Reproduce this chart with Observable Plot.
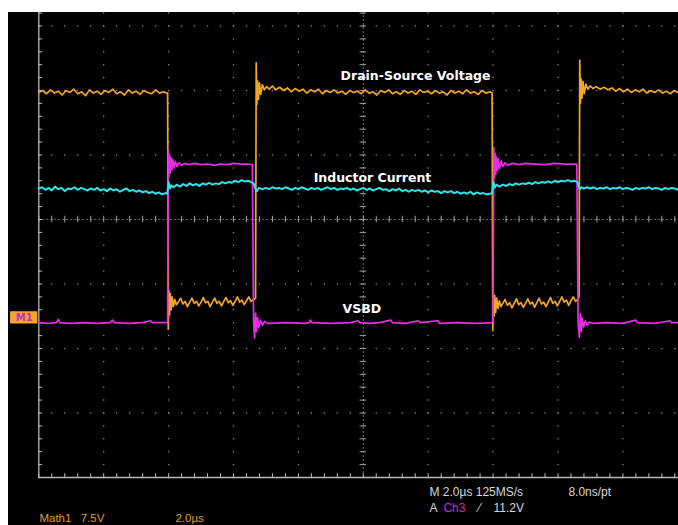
<!DOCTYPE html>
<html>
<head>
<meta charset="utf-8">
<script src="https://cdn.jsdelivr.net/npm/d3@7"></script>
<script src="https://cdn.jsdelivr.net/npm/@observablehq/plot@0.6"></script>
<style>
  html, body { margin: 0; padding: 0; background: #fff; overflow: hidden; }
  #wrap { padding: 12px 0 0 8px; }
</style>
</head>
<body>
<div id="wrap"></div>
<script>
// time in µs (2 µs/div), vertical in screen divisions
const majorTimes = [0, 2, 4, 6, 8, 10, 12, 14, 16, 18, 20];
const majorDivs = [-4, -3, -2, -1, 0, 1, 2, 3];

const drainSource = [
  [0,1.97],[0.12,2.00],[0.24,1.95],[0.36,2.01],[0.48,1.96],[0.6,1.99],[0.72,1.93],[0.84,2.00],[0.96,1.97],[1.08,2.02],
  [1.2,1.95],[1.32,1.98],[1.44,1.92],[1.56,2.01],[1.68,1.96],[1.8,1.99],[1.92,1.94],[2.04,2.00],[2.16,1.97],[2.28,2.02],
  [2.4,1.95],[2.52,1.98],[2.64,1.93],[2.76,2.01],[2.88,1.96],[3.0,1.99],[3.12,1.94],[3.24,2.00],[3.36,1.97],[3.48,1.95],
  [3.6,2.01],[3.72,1.96],[3.84,1.98],[3.95,1.96],[3.97,1.96],
  [3.99,-1.70],[4.01,-1.10],[4.03,-1.48],[4.05,-1.15],[4.08,-1.40],[4.11,-1.20],[4.15,-1.35],[4.19,-1.24],[4.24,-1.32],
  [4.3,-1.28],[4.37,-1.22],[4.44,-1.31],[4.51,-1.27],[4.58,-1.35],[4.65,-1.28],[4.72,-1.22],[4.79,-1.30],[4.86,-1.27],[4.93,-1.34],
  [5.0,-1.28],[5.07,-1.21],[5.14,-1.29],[5.21,-1.27],[5.28,-1.35],[5.35,-1.28],[5.42,-1.22],[5.49,-1.30],[5.56,-1.27],[5.63,-1.34],
  [5.7,-1.27],[5.77,-1.21],[5.84,-1.29],[5.91,-1.26],[5.98,-1.33],[6.05,-1.27],[6.12,-1.20],[6.19,-1.28],[6.26,-1.25],[6.33,-1.32],
  [6.4,-1.26],[6.47,-1.20],[6.54,-1.27],[6.62,-1.24],[6.68,-1.22],
  [6.70,2.43],[6.72,1.78],[6.74,2.15],[6.77,1.86],[6.80,2.12],[6.84,1.94],[6.89,2.09],[6.95,2.01],[7.02,2.06],[7.1,2.02],
  [7.2,2.07],[7.3,2.01],[7.42,2.05],[7.54,2.00],[7.66,2.04],[7.78,1.98],[7.9,2.03],[8.02,1.99],[8.14,2.02],[8.26,1.96],
  [8.38,2.01],[8.5,1.98],[8.62,2.02],[8.74,1.95],[8.86,2.00],[8.98,1.97],[9.1,2.01],[9.22,1.96],[9.34,1.99],[9.46,1.94],
  [9.58,2.00],[9.7,1.97],[9.82,1.99],[9.94,1.95],[10.06,2.01],[10.18,1.96],[10.3,1.98],[10.42,1.93],[10.54,2.00],[10.66,1.97],
  [10.78,2.01],[10.9,1.95],[11.02,1.98],[11.14,1.94],[11.26,2.00],[11.38,1.96],[11.5,1.99],[11.62,1.94],[11.74,2.01],[11.86,1.97],
  [11.98,1.99],[12.1,1.95],[12.22,2.00],[12.34,1.96],[12.46,1.98],[12.58,1.93],[12.7,2.00],[12.82,1.96],[12.94,1.99],[13.06,1.95],
  [13.18,2.01],[13.3,1.96],[13.42,1.98],[13.54,1.94],[13.66,2.00],[13.78,1.96],[13.9,1.98],[13.97,1.96],
  [13.99,-1.72],[14.01,-1.15],[14.03,-1.50],[14.05,-1.18],[14.08,-1.44],[14.11,-1.22],[14.15,-1.38],[14.19,-1.26],[14.24,-1.35],
  [14.3,-1.30],[14.37,-1.24],[14.44,-1.33],[14.51,-1.29],[14.58,-1.37],[14.65,-1.30],[14.72,-1.23],[14.79,-1.32],[14.86,-1.29],[14.93,-1.36],
  [15.0,-1.30],[15.07,-1.23],[15.14,-1.31],[15.21,-1.28],[15.28,-1.36],[15.35,-1.29],[15.42,-1.22],[15.49,-1.31],[15.56,-1.28],[15.63,-1.35],
  [15.7,-1.28],[15.77,-1.21],[15.84,-1.30],[15.91,-1.27],[15.98,-1.34],[16.05,-1.27],[16.12,-1.20],[16.19,-1.28],[16.26,-1.25],[16.33,-1.33],
  [16.4,-1.26],[16.47,-1.20],[16.54,-1.27],[16.61,-1.24],[16.65,-1.20],
  [16.67,2.47],[16.69,1.80],[16.71,2.18],[16.74,1.88],[16.77,2.14],[16.81,1.95],[16.86,2.10],[16.92,2.02],[16.99,2.07],[17.08,2.03],
  [17.18,2.06],[17.3,2.02],[17.42,2.05],[17.54,2.01],[17.66,2.04],[17.78,1.99],[17.9,2.03],[18.02,1.98],[18.14,2.02],[18.26,1.97],
  [18.38,2.01],[18.5,1.98],[18.62,2.02],[18.74,1.96],[18.86,2.00],[18.98,1.97],[19.1,2.01],[19.22,1.96],[19.34,1.99],[19.46,1.95],
  [19.58,2.00],[19.7,1.97],[19.82,1.99],[19.94,1.96],[20.0,1.98]
];

const vsbd = [
  [0,-1.60],[0.3,-1.61],[0.55,-1.60],[0.6,-1.55],[0.65,-1.60],[1.0,-1.61],[1.4,-1.60],[1.8,-1.61],[2.2,-1.60],[2.27,-1.56],
  [2.33,-1.60],[2.8,-1.61],[3.2,-1.60],[3.45,-1.57],[3.5,-1.60],[3.97,-1.60],
  [3.99,1.07],[4.01,0.66],[4.03,1.00],[4.05,0.72],[4.07,0.96],[4.10,0.77],[4.13,0.93],[4.17,0.80],[4.21,0.90],[4.26,0.82],
  [4.32,0.88],[4.4,0.84],[4.5,0.87],[4.65,0.85],[4.8,0.87],[5.0,0.85],[5.2,0.86],[5.4,0.84],[5.6,0.86],[5.8,0.85],
  [6.0,0.87],[6.2,0.86],[6.4,0.86],[6.58,0.85],
  [6.62,-1.60],[6.65,-1.84],[6.68,-1.45],[6.71,-1.74],[6.74,-1.52],[6.78,-1.68],[6.83,-1.56],[6.89,-1.64],[6.96,-1.58],[7.05,-1.61],
  [7.6,-1.60],[8.2,-1.61],[8.33,-1.60],[8.37,-1.56],[8.42,-1.60],[9.0,-1.61],[9.6,-1.60],[9.85,-1.57],[9.9,-1.60],[10.2,-1.61],
  [10.5,-1.60],[10.85,-1.56],[10.9,-1.60],[11.3,-1.61],[11.7,-1.57],[11.75,-1.60],[12.3,-1.57],[12.35,-1.61],[12.9,-1.60],[13.5,-1.61],
  [14.0,-1.60],
  [14.02,1.12],[14.04,0.64],[14.06,1.02],[14.08,0.70],[14.10,0.97],[14.13,0.76],[14.16,0.94],[14.20,0.79],[14.25,0.91],[14.3,0.82],
  [14.37,0.88],[14.45,0.84],[14.6,0.87],[14.8,0.85],[15.0,0.87],[15.3,0.86],[15.6,0.85],[15.9,0.87],[16.2,0.86],[16.58,0.86],
  [16.62,-1.60],[16.66,-1.83],[16.69,-1.46],[16.72,-1.73],[16.75,-1.53],[16.79,-1.67],[16.84,-1.57],[16.9,-1.64],[16.97,-1.59],[17.06,-1.61],
  [17.5,-1.60],[18.0,-1.61],[18.4,-1.56],[18.45,-1.60],[19.0,-1.61],[19.45,-1.57],[19.5,-1.60],[20,-1.60]
];

const inductorCurrent = [
  [0,0.48],[0.1,0.50],[0.2,0.46],[0.3,0.49],[0.4,0.45],[0.5,0.51],[0.6,0.47],[0.7,0.49],[0.8,0.44],[0.9,0.48],
  [1.0,0.47],[1.1,0.50],[1.2,0.46],[1.3,0.49],[1.4,0.47],[1.5,0.45],[1.6,0.48],[1.7,0.46],[1.8,0.49],[1.9,0.45],
  [2.0,0.47],[2.1,0.44],[2.2,0.48],[2.3,0.45],[2.4,0.47],[2.5,0.43],[2.6,0.46],[2.7,0.48],[2.8,0.44],[2.9,0.46],
  [3.0,0.43],[3.1,0.45],[3.2,0.42],[3.3,0.44],[3.4,0.41],[3.5,0.43],[3.6,0.40],[3.7,0.42],[3.8,0.39],[3.9,0.41],[3.96,0.40],
  [4.0,0.58],[4.04,0.48],[4.08,0.53],[4.15,0.50],[4.25,0.54],[4.35,0.51],[4.45,0.55],[4.55,0.52],[4.65,0.56],[4.75,0.53],
  [4.85,0.55],[4.95,0.52],[5.05,0.56],[5.15,0.54],[5.25,0.57],[5.35,0.54],[5.45,0.56],[5.55,0.55],[5.65,0.58],[5.75,0.56],
  [5.85,0.58],[5.95,0.57],[6.05,0.60],[6.15,0.58],[6.25,0.61],[6.35,0.59],[6.45,0.60],[6.55,0.58],[6.62,0.56],
  [6.68,0.47],[6.72,0.44],[6.78,0.49],[6.88,0.47],[7.0,0.49],[7.1,0.47],[7.2,0.50],[7.3,0.48],[7.4,0.49],[7.5,0.47],
  [7.6,0.50],[7.7,0.48],[7.8,0.46],[7.9,0.49],[8.0,0.47],[8.1,0.50],[8.2,0.48],[8.3,0.46],[8.4,0.49],[8.5,0.47],
  [8.6,0.49],[8.7,0.46],[8.8,0.48],[8.9,0.50],[9.0,0.47],[9.1,0.49],[9.2,0.46],[9.3,0.48],[9.4,0.47],[9.5,0.49],
  [9.6,0.46],[9.7,0.48],[9.8,0.45],[9.9,0.47],[10.0,0.49],[10.1,0.46],[10.2,0.48],[10.3,0.45],[10.4,0.47],[10.5,0.49],
  [10.6,0.46],[10.7,0.47],[10.8,0.44],[10.9,0.47],[11.0,0.45],[11.1,0.48],[11.2,0.44],[11.3,0.46],[11.4,0.43],[11.5,0.46],
  [11.6,0.44],[11.7,0.46],[11.8,0.43],[11.9,0.45],[12.0,0.42],[12.1,0.45],[12.2,0.43],[12.3,0.44],[12.4,0.41],[12.5,0.44],
  [12.6,0.42],[12.7,0.44],[12.8,0.41],[12.9,0.43],[13.0,0.40],[13.1,0.42],[13.2,0.40],[13.3,0.43],[13.4,0.39],[13.5,0.42],
  [13.6,0.40],[13.7,0.41],[13.8,0.39],[13.9,0.40],[13.97,0.41],
  [14.01,0.58],[14.05,0.49],[14.1,0.54],[14.2,0.51],[14.3,0.54],[14.4,0.52],[14.5,0.55],[14.6,0.53],[14.7,0.56],[14.8,0.54],
  [14.9,0.56],[15.0,0.55],[15.1,0.57],[15.2,0.55],[15.3,0.58],[15.4,0.56],[15.5,0.58],[15.6,0.57],[15.7,0.59],[15.8,0.57],
  [15.9,0.60],[16.0,0.58],[16.1,0.60],[16.2,0.59],[16.3,0.61],[16.4,0.59],[16.5,0.60],[16.6,0.58],
  [16.67,0.47],[16.72,0.50],[16.8,0.48],[16.9,0.50],[17.0,0.48],[17.1,0.50],[17.2,0.47],[17.3,0.49],[17.4,0.48],[17.5,0.50],
  [17.6,0.47],[17.7,0.49],[17.8,0.48],[17.9,0.50],[18.0,0.47],[18.1,0.49],[18.2,0.48],[18.3,0.46],[18.4,0.49],[18.5,0.47],
  [18.6,0.49],[18.7,0.48],[18.8,0.50],[18.9,0.47],[19.0,0.49],[19.1,0.48],[19.2,0.46],[19.3,0.49],[19.4,0.47],[19.5,0.49],
  [19.6,0.48],[19.7,0.46],[19.8,0.49],[19.9,0.47],[20.0,0.48]
];

const traceLabels = ["Drain-Source Voltage", "Inductor Current", "VSBD"];
const readoutTop = ["M 2.0µs 125MS/s", "8.0ns/pt"];
const readoutBottom = ["A", "Ch3", "⁄", "11.2V"];
const mathReadout = ["Math1", "7.5V", "2.0µs"];

// graticule helpers (minor subdivisions: 5 per division)
const minorTimes = d3.range(0, 20.001, 0.4);
const minorDivs = d3.range(-4, 4.001, 0.2);
const gridDots = [];
for (const t of majorTimes) for (const v of minorDivs) gridDots.push([t, v]);
for (const v of majorDivs) for (const t of minorTimes) gridDots.push([t, v]);

const orange = "#f2a52a";
const magenta = "#e52ee5";
const cyan = "#2fe3ea";
const grid = "#8c8c8c";
const frame = "#b8b8b8";
const labelFont = { textAnchor: "start", fill: "#fff", fontFamily: "DejaVu Sans", fontWeight: "bold", fontSize: 12.5 };
const readFont = { textAnchor: "start", fill: "#d8d8d8", fontFamily: "Liberation Sans", fontSize: 12 };
const mathFont = { textAnchor: "start", fill: "#e39a2a", fontFamily: "Liberation Sans", fontSize: 11.5 };

const chart = Plot.plot({
  width: 670,
  height: 513,
  margin: 0,
  style: { background: "#000", overflow: "hidden" },
  x: { domain: [0, 20], range: [30.3, 679.3], axis: null },
  y: { domain: [-4, 4], range: [465, -51], axis: null },
  marks: [
    // graticule dots
    Plot.dot(gridDots, { x: d => d[0], y: d => d[1], r: 0.75, fill: grid, stroke: null }),
    // center cross (dashed with minor ticks)
    Plot.ruleY([0], { x1: 0, x2: 20, stroke: "#6a6a6a", strokeWidth: 1, strokeDasharray: "2,2" }),
    Plot.ruleX([10], { y1: -4, y2: 4, stroke: "#6a6a6a", strokeWidth: 1, strokeDasharray: "2,2" }),
    Plot.ruleX(minorTimes, { y1: -0.05, y2: 0.05, stroke: "#a0a0a0", strokeWidth: 1 }),
    Plot.ruleY(minorDivs, { x1: 9.9, x2: 10.1, stroke: "#a0a0a0", strokeWidth: 1 }),
    // frame: left and bottom with inward ticks
    Plot.ruleX([0], { y1: -4, y2: 4, stroke: frame, strokeWidth: 1.3 }),
    Plot.ruleY([-4], { x1: 0, x2: 20, stroke: frame, strokeWidth: 1.3 }),
    Plot.ruleY(minorDivs, { x1: 0, x2: 0.12, stroke: frame, strokeWidth: 1 }),
    Plot.ruleX(minorTimes, { y1: -4, y2: -3.94, stroke: frame, strokeWidth: 1 }),
    // traces
    Plot.line(drainSource, { stroke: orange, strokeWidth: 1.7 }),
    Plot.line(vsbd, { stroke: magenta, strokeWidth: 1.7 }),
    Plot.line(inductorCurrent, { stroke: cyan, strokeWidth: 2 }),
    // trace labels
    Plot.text([traceLabels[0]], { x: 9.3, y: 2.225, text: d => d, ...labelFont }),
    Plot.text([traceLabels[1]], { x: 8.47, y: 0.636, text: d => d, ...labelFont }),
    Plot.text([traceLabels[2]], { x: 9.36, y: -1.395, text: d => d, ...labelFont }),
    // M1 ground marker
    Plot.rect([0], { x1: -0.87, x2: -0.03, y1: -1.43, y2: -1.62, fill: orange }),
    Plot.text(["M1"], { x: -0.45, y: -1.525, text: d => d, fill: "#c02ad0", fontFamily: "DejaVu Sans", fontWeight: "bold", fontSize: 10 }),
    // readouts
    Plot.text([readoutTop[0]], { x: 12.04, y: -4.22, text: d => d, ...readFont }),
    Plot.text([readoutTop[1]], { x: 16.32, y: -4.22, text: d => d, ...readFont }),
    Plot.text([readoutBottom[0]], { x: 12.04, y: -4.47, text: d => d, ...readFont }),
    Plot.text([readoutBottom[1]], { x: 12.47, y: -4.47, text: d => d, ...readFont, fill: "#c030c8" }),
    Plot.text([readoutBottom[2]], { x: 13.55, y: -4.47, text: d => d, ...readFont }),
    Plot.text([readoutBottom[3]], { x: 14.01, y: -4.47, text: d => d, ...readFont }),
    Plot.text([mathReadout[0]], { x: 0.02, y: -4.63, text: d => d, ...mathFont }),
    Plot.text([mathReadout[1]], { x: 1.29, y: -4.63, text: d => d, ...mathFont }),
    Plot.text([mathReadout[2]], { x: 4.21, y: -4.63, text: d => d, ...mathFont })
  ]
});
document.getElementById("wrap").appendChild(chart);
</script>
</body>
</html>
